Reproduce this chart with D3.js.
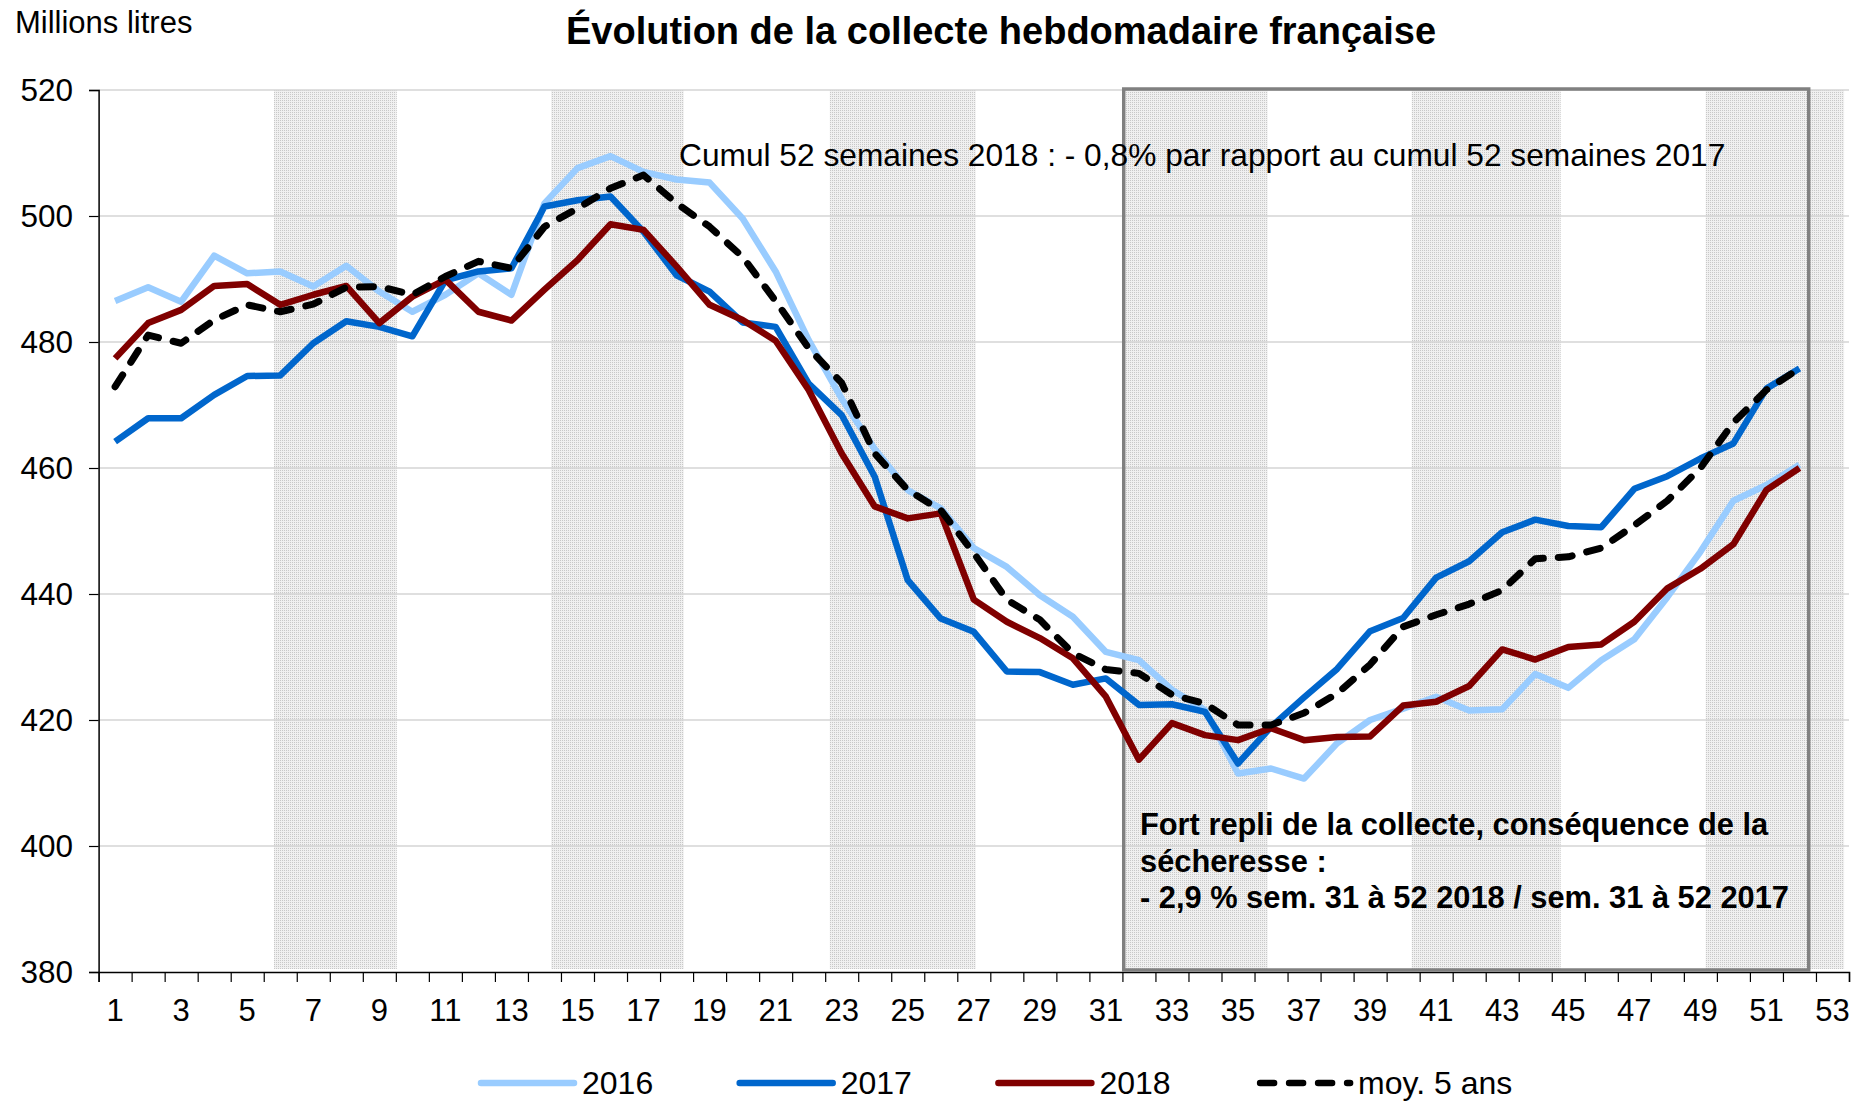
<!DOCTYPE html>
<html>
<head>
<meta charset="utf-8">
<script src="https://cdn.jsdelivr.net/npm/d3@7"></script>
<style>
  html, body { margin: 0; padding: 0; background: #fff; }
  svg text { font-family: "Liberation Sans", Arial, sans-serif; fill: #000; }
</style>
</head>
<body>
<svg id="chart" width="1863" height="1101"></svg>
<script>
// Weekly French milk collection (millions of litres), weeks 1 to 52
const weeks = [1,2,3,4,5,6,7,8,9,10,11,12,13,14,15,16,17,18,19,20,21,22,23,24,25,26,
               27,28,29,30,31,32,33,34,35,36,37,38,39,40,41,42,43,44,45,46,47,48,49,50,51,52,53];
const weekLabels = [1,3,5,7,9,11,13,15,17,19,21,23,25,27,29,31,33,35,37,39,41,43,45,47,49,51,53];
const yTicks = [380,400,420,440,460,480,500,520];

const s2016 = [486.5,488.7,486.4,493.7,490.9,491.2,488.8,492.1,488.0,484.8,487.5,490.9,487.5,
               502.0,507.6,509.5,507.0,505.8,505.3,499.6,491.2,480.3,471.0,463.0,456.5,453.6,
               447.3,444.3,439.8,436.4,430.8,429.5,424.8,421.6,411.5,412.3,410.7,416.3,420.0,
               421.8,423.7,421.5,421.7,427.3,425.1,429.5,432.8,439.5,446.7,454.8,457.3,460.5];
const s2017 = [464.2,467.9,467.9,471.6,474.6,474.7,479.8,483.3,482.4,480.9,489.8,491.2,491.7,
               501.5,502.5,503.1,497.5,490.6,488.0,483.1,482.4,473.4,468.4,458.6,442.2,436.1,
               434.0,427.7,427.6,425.6,426.6,422.4,422.5,421.3,413.1,418.9,423.6,428.1,434.1,
               436.2,442.6,445.2,449.8,451.8,450.8,450.6,456.7,458.7,461.5,463.9,472.6,475.8];
const s2018 = [477.4,483.0,485.1,488.9,489.2,485.9,487.5,488.9,483.0,487.2,489.9,484.8,483.4,
               488.3,493.0,498.7,497.8,492.0,485.9,483.5,480.2,472.4,462.3,453.9,452.0,452.8,
               439.1,435.6,433.0,429.8,423.7,413.7,419.5,417.6,416.8,418.7,416.8,417.3,417.4,
               422.3,422.9,425.4,431.2,429.6,431.6,432.0,435.6,440.9,444.0,447.9,456.5,460.0];
const sMoy5 = [472.9,481.1,479.8,483.5,485.9,484.8,486.0,488.7,488.8,487.5,490.4,492.8,491.7,
               498.3,501.2,504.4,506.5,502.0,498.3,493.5,486.5,479.0,473.5,462.3,456.5,453.3,
               446.5,439.1,435.9,430.6,428.0,427.4,424.0,422.6,419.2,419.2,421.1,424.2,428.8,
               434.8,436.7,438.4,440.6,445.6,445.9,447.3,450.9,454.8,460.0,467.2,472.4,475.8];

const seriesNames = ["2016", "2017", "2018", "moy. 5 ans"];
const seriesValues = [s2016, s2017, s2018, sMoy5];

// Shaded months (Feb, Apr, Jun, Aug, Oct, Dec) in axis units (0 = left edge, 53 = right edge)
const monthStart = [5.31, 13.70, 22.14, 31.10, 39.76, 48.66];
const monthEnd   = [9.03, 17.72, 26.56, 35.40, 44.27, 52.85];

const styles = [
  { color: "#99ccff", width: 6.5, dash: null },
  { color: "#0066cc", width: 6.5, dash: null },
  { color: "#800000", width: 6.5, dash: null },
  { color: "#000000", width: 7, dash: "14,15" }
];

const svg = d3.select("#chart");
const plotLeft = 98.6, plotRight = 1849, plotTop = 90, plotBottom = 972;

const x = d3.scaleBand().domain(weeks).range([plotLeft, plotRight]).padding(0);
const xEdge = d3.scaleLinear().domain([0, 53]).range([plotLeft, plotRight]);
const y = d3.scaleLinear().domain([380, 520]).range([plotBottom, plotTop]);

// dotted texture for the shaded months
const defs = svg.append("defs");
const pat = defs.append("pattern").attr("id", "dots")
  .attr("width", 2).attr("height", 2).attr("patternUnits", "userSpaceOnUse");
pat.append("rect").attr("width", 2).attr("height", 2).attr("fill", "#f0f0f0");
pat.append("rect").attr("width", 1).attr("height", 1).attr("fill", "#c8c8c8");

svg.append("g").selectAll("rect").data(monthStart).join("rect")
  .attr("x", d => xEdge(d))
  .attr("y", plotTop)
  .attr("width", (d, i) => xEdge(monthEnd[i]) - xEdge(d))
  .attr("height", plotBottom - 3 - plotTop)
  .attr("fill", "url(#dots)");

// horizontal gridlines
svg.append("g").selectAll("line").data(yTicks.filter(v => v > 380)).join("line")
  .attr("x1", plotLeft).attr("x2", plotRight)
  .attr("y1", d => y(d)).attr("y2", d => y(d))
  .attr("stroke", "#d4d4d4").attr("stroke-width", 1.5);

// y axis
const yAxis = svg.append("g").attr("transform", `translate(${plotLeft},0)`)
  .call(d3.axisLeft(y).tickValues(yTicks).tickSize(9.6).tickPadding(16).tickFormat(d3.format("d")));
yAxis.select(".domain").attr("stroke", "#000").attr("stroke-width", 1.5);
yAxis.selectAll(".tick line").attr("stroke", "#000").attr("stroke-width", 1.2);
yAxis.selectAll("text").style("font-size", "31.5px").style("font-family", "Liberation Sans, Arial, sans-serif");

// x axis: boundary ticks
const xTicks = svg.append("g").attr("transform", `translate(0,${plotBottom})`)
  .call(d3.axisBottom(xEdge).tickValues(d3.range(0, 54)).tickSize(10).tickFormat(""));
xTicks.select(".domain").attr("stroke", "#000").attr("stroke-width", 1.5);
xTicks.selectAll(".tick line").attr("stroke", "#000").attr("stroke-width", 1.2);

// x axis: week labels
const xLabels = svg.append("g").attr("transform", `translate(0,${plotBottom})`)
  .call(d3.axisBottom(x).tickValues(weekLabels).tickSize(0).tickPadding(27));
xLabels.select(".domain").remove();
xLabels.selectAll("text").style("font-size", "31px").style("font-family", "Liberation Sans, Arial, sans-serif");

// summary box for weeks 31 to 52
svg.append("rect")
  .attr("x", xEdge(31.04)).attr("y", plotTop - 1)
  .attr("width", xEdge(51.78) - xEdge(31.04))
  .attr("height", plotBottom - 2 - (plotTop - 1))
  .attr("fill", "none").attr("stroke", "#808080").attr("stroke-width", 3.5);

// series lines
const line = d3.line()
  .x((d, i) => x(weeks[i]) + x.bandwidth() / 2)
  .y(d => y(d));

svg.append("g").selectAll("path").data(seriesValues).join("path")
  .attr("d", d => line(d))
  .attr("fill", "none")
  .attr("stroke", (d, i) => styles[i].color)
  .attr("stroke-width", (d, i) => styles[i].width)
  .attr("stroke-dasharray", (d, i) => styles[i].dash)
  .attr("stroke-linecap", (d, i) => styles[i].dash ? "round" : "butt")
  .attr("stroke-linejoin", "round");

// texts
svg.append("text").attr("x", 15).attr("y", 33)
  .style("font-size", "31px").text("Millions litres");

svg.append("text").attr("x", 1001).attr("y", 44).attr("text-anchor", "middle")
  .style("font-size", "38px").style("font-weight", "bold")
  .text("Évolution de la collecte hebdomadaire française");

svg.append("text").attr("x", 679).attr("y", 166)
  .style("font-size", "31.7px")
  .text("Cumul 52 semaines 2018 : - 0,8% par rapport au cumul 52 semaines 2017");

const note = ["Fort repli de la collecte, conséquence de la",
              "sécheresse :",
              "- 2,9 % sem. 31 à 52 2018 / sem. 31 à 52 2017"];
svg.append("g").selectAll("text").data(note).join("text")
  .attr("x", 1140).attr("y", (d, i) => 835 + i * 36.7)
  .style("font-size", "30.8px").style("font-weight", "bold")
  .text(d => d);

// legend
const legend = svg.append("g").selectAll("g").data(seriesNames).join("g")
  .attr("transform", (d, i) => `translate(${481 + i * 258.7},1083)`);
legend.append("line")
  .attr("x1", (d, i) => styles[i].dash ? 3 : 0).attr("x2", 93)
  .attr("y1", 0).attr("y2", 0)
  .attr("stroke", (d, i) => styles[i].color)
  .attr("stroke-width", 6.5)
  .attr("stroke-dasharray", (d, i) => styles[i].dash)
  .attr("stroke-linecap", "round");
legend.append("text").attr("x", 101).attr("y", 10.5)
  .style("font-size", "32px").text(d => d);
</script>
</body>
</html>
